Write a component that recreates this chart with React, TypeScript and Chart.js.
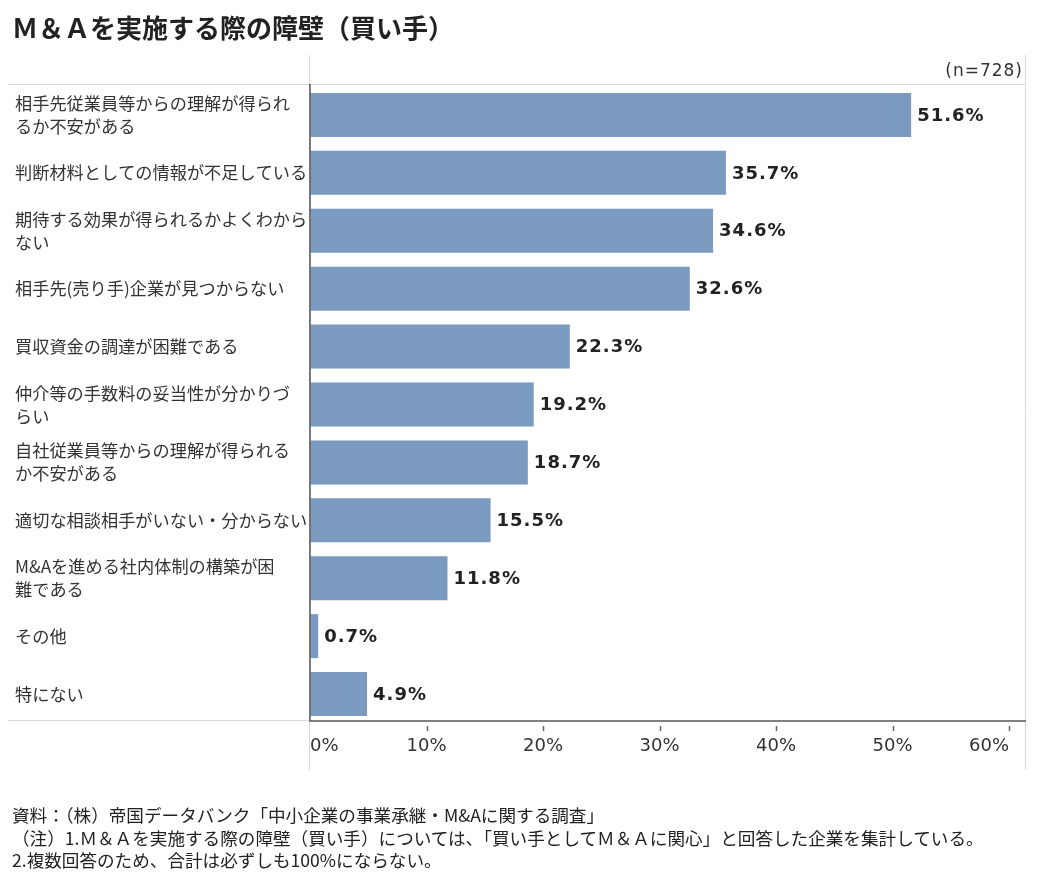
import React, { useEffect, useRef } from "react";
import { Chart, registerables } from "chart.js";

Chart.register(...registerables);

const chartTitle = "Ｍ＆Ａを実施する際の障壁（買い手）";
const sampleSize = "(n=728)";

const categories: string[][] = [
  ["相手先従業員等からの理解が得られ", "るか不安がある"],
  ["判断材料としての情報が不足している"],
  ["期待する効果が得られるかよくわから", "ない"],
  ["相手先(売り手)企業が見つからない"],
  ["買収資金の調達が困難である"],
  ["仲介等の手数料の妥当性が分かりづ", "らい"],
  ["自社従業員等からの理解が得られる", "か不安がある"],
  ["適切な相談相手がいない・分からない"],
  ["M&Aを進める社内体制の構築が困", "難である"],
  ["その他"],
  ["特にない"],
];

const values: number[] = [51.6, 35.7, 34.6, 32.6, 22.3, 19.2, 18.7, 15.5, 11.8, 0.7, 4.9];

const xMin = 0;
const xMax = 60;
const xStep = 10;

const notes: string[] = [
  "資料：（株）帝国データバンク「中小企業の事業承継・M&Aに関する調査」",
  "（注）1.Ｍ＆Ａを実施する際の障壁（買い手）については、「買い手としてＭ＆Ａに関心」と回答した企業を集計している。",
  "2.複数回答のため、合計は必ずしも100%にならない。",
];

const W = 1023;
const H = 879;
const BAR_COLOR = "#7a9ac0";
const CJK = "'Noto Sans CJK JP', sans-serif";

// frame geometry (canvas coordinates)
const FRAME_TOP = 76;
const FRAME_BOTTOM = 713;
const FRAME_RIGHT = 1017;

export default function App() {
  const ref = useRef<HTMLCanvasElement>(null);

  useEffect(() => {
    const framePlugin = {
      id: "frame",
      beforeDatasetsDraw(chart: any) {
        const ctx = chart.ctx as CanvasRenderingContext2D;
        const a = chart.chartArea;
        ctx.save();
        ctx.strokeStyle = "#d8d8d8";
        ctx.lineWidth = 1;
        ctx.beginPath();
        ctx.moveTo(a.left - 0.5, 47);
        ctx.lineTo(a.left - 0.5, 762);
        ctx.moveTo(FRAME_RIGHT + 0.5, 47);
        ctx.lineTo(FRAME_RIGHT + 0.5, 762);
        ctx.moveTo(0, FRAME_TOP + 0.5);
        ctx.lineTo(FRAME_RIGHT, FRAME_TOP + 0.5);
        ctx.moveTo(0, FRAME_BOTTOM - 0.5);
        ctx.lineTo(a.left, FRAME_BOTTOM - 0.5);
        ctx.stroke();
        ctx.restore();
      },
      afterDatasetsDraw(chart: any) {
        const ctx = chart.ctx as CanvasRenderingContext2D;
        const a = chart.chartArea;
        const xs = chart.scales.x;
        ctx.save();
        ctx.strokeStyle = "#555";
        ctx.lineWidth = 1.5;
        ctx.beginPath();
        ctx.moveTo(a.left, FRAME_TOP);
        ctx.lineTo(a.left, FRAME_BOTTOM + 0.75);
        ctx.moveTo(a.left, FRAME_BOTTOM);
        ctx.lineTo(FRAME_RIGHT + 1, FRAME_BOTTOM);
        ctx.stroke();
        ctx.strokeStyle = "#666";
        ctx.lineWidth = 1.5;
        ctx.beginPath();
        for (let v = xMin + xStep; v <= xMax; v += xStep) {
          const px = Math.round(xs.getPixelForValue(v)) + 0.5;
          ctx.moveTo(px, FRAME_BOTTOM + 5);
          ctx.lineTo(px, FRAME_BOTTOM + 10);
        }
        ctx.stroke();
        const meta = chart.getDatasetMeta(0);
        ctx.fillStyle = "#222";
        ctx.font = "bold 18px 'DejaVu Sans', sans-serif";
        (ctx as any).letterSpacing = "1px";
        ctx.textAlign = "left";
        ctx.textBaseline = "middle";
        meta.data.forEach((bar: any, i: number) => {
          ctx.fillText(values[i].toFixed(1) + "%", bar.x + 6, bar.y + 1);
        });
        ctx.font = "17px 'DejaVu Sans', sans-serif";
        (ctx as any).letterSpacing = "1px";
        ctx.fillStyle = "#333";
        ctx.textAlign = "right";
        ctx.fillText(sampleSize, 1015, 64);
        ctx.restore();
      },
    };

    const chart = new Chart(ref.current as HTMLCanvasElement, {
      type: "bar",
      data: {
        labels: categories as any,
        datasets: [
          {
            data: values,
            backgroundColor: BAR_COLOR,
            borderWidth: 0,
            barPercentage: 0.76,
            categoryPercentage: 1,
          },
        ],
      },
      options: {
        indexAxis: "y",
        responsive: false,
        animation: false,
        devicePixelRatio: 1,
        layout: { padding: { left: 7, right: 22, top: 78, bottom: 104 } },
        plugins: {
          legend: { display: false },
          tooltip: { enabled: false },
        },
        scales: {
          x: {
            min: xMin,
            max: xMax,
            ticks: {
              stepSize: xStep,
              callback: (v: any) => v + "%",
              align: "inner",
              color: "#333",
              font: { family: "'DejaVu Sans', sans-serif", size: 18 },
              padding: 5,
              maxRotation: 0,
            },
            grid: {
              drawOnChartArea: false,
              tickColor: "rgba(0,0,0,0)",
              tickLength: 8,
            },
            border: { display: false },
            afterFit: (s: any) => {
              s.height = 60;
            },
          },
          y: {
            ticks: {
              crossAlign: "far",
              autoSkip: false,
              color: "#333",
              font: { family: CJK, size: 17.2, lineHeight: "23px" },
            },
            grid: { display: false },
            border: { display: false },
            afterFit: (s: any) => {
              s.width = 295;
            },
          },
        },
      } as any,
      plugins: [framePlugin],
    });
    return () => chart.destroy();
  }, []);

  return (
    <div style={{ position: "relative", width: W, height: H, fontFamily: CJK, color: "#222" }}>
      <canvas
        ref={ref}
        width={W}
        height={H}
        style={{ position: "absolute", left: 0, top: 0, width: W, height: H }}
      />
      <div
        style={{
          position: "absolute",
          left: 4,
          top: 4,
          fontSize: 26,
          fontWeight: "bold",
          lineHeight: "30px",
          whiteSpace: "nowrap",
        }}
      >
        {chartTitle}
      </div>
      <div
        style={{
          position: "absolute",
          left: 4,
          top: 796,
          fontSize: 17.6,
          lineHeight: "22.5px",
          whiteSpace: "nowrap",
        }}
      >
        {notes.map((n, i) => (
          <div key={i}>{n}</div>
        ))}
      </div>
    </div>
  );
}
